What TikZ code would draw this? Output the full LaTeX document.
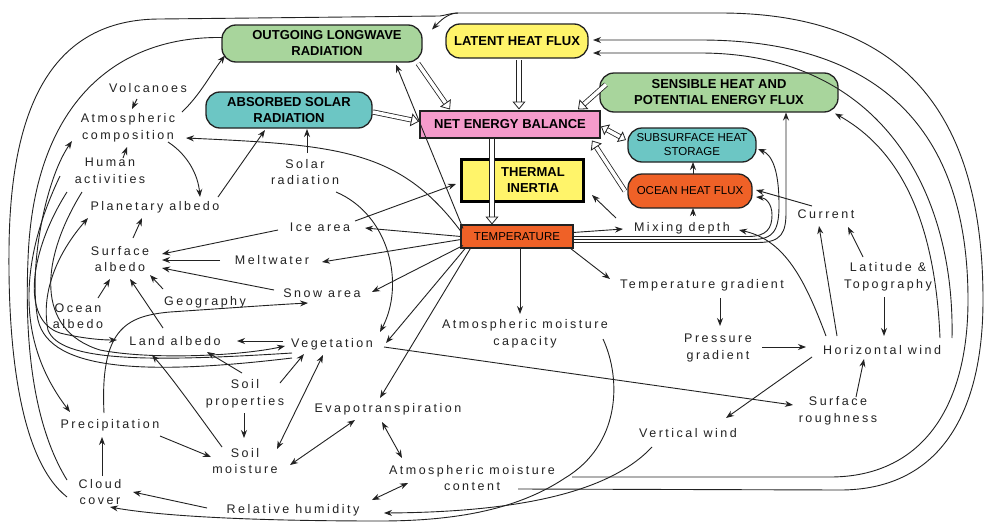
\documentclass[tikz,border=0pt]{standalone}
\usepackage{fontspec}
\setmainfont{Liberation Sans}
\newfontfamily\lblf[LetterSpace=20]{Liberation Sans}
\usetikzlibrary{arrows.meta,calc}
\definecolor{boxgreen}{HTML}{A8D59C}
\definecolor{boxyellow}{HTML}{FFF46A}
\definecolor{boxteal}{HTML}{6CC6C4}
\definecolor{boxpink}{HTML}{F59BCB}
\definecolor{boxorange}{HTML}{EF6127}
\definecolor{ink}{HTML}{222222}
\begin{document}
\begin{tikzpicture}[x=1pt,y=-1pt,
 lbl/.style={font=\lblf\fontsize{12.5}{16.5}\selectfont, text=ink, align=center, inner sep=1pt},
 rbox/.style={draw=ink, line width=1.3pt, rounded corners=14pt, font=\fontsize{13}{16}\selectfont\bfseries, align=center, inner sep=0pt},
 rboxr/.style={rbox, font=\fontsize{11.5}{14}\selectfont},
 arr/.style={draw=ink, line width=0.9pt, -{Stealth[length=8pt,width=6pt]}},
 darr/.style={draw=ink, line width=0.9pt, {Stealth[length=8pt,width=6pt]}-{Stealth[length=8pt,width=6pt]}},
 plain/.style={draw=ink, line width=0.9pt},
 hollow/.style={draw=ink, line width=0.8pt, double=white, double distance=3.5pt, -{Triangle[open,length=8pt,width=13pt]}},
 dhollow/.style={hollow, {Triangle[open,length=7pt,width=12pt]}-{Triangle[open,length=7pt,width=12pt]}}
]
\useasboundingbox[fill=white] (0,0) rectangle (986,525);

% boxes
\node[rbox, fill=boxgreen, minimum width=200pt, minimum height=37pt] (olr) at (322,43.5) {\hspace*{10pt}OUTGOING LONGWAVE\\\hspace*{10pt}RADIATION};
\node[rbox, fill=boxyellow, minimum width=142pt, minimum height=34pt] (lhf) at (517,41) {LATENT HEAT FLUX};
\node[rbox, fill=boxteal, minimum width=166pt, minimum height=36pt] (asr) at (289,110) {ABSORBED SOLAR\\RADIATION};
\node[rbox, rounded corners=0pt, fill=boxpink, minimum width=180pt, minimum height=27pt] (neb) at (510,124.5) {NET ENERGY BALANCE};
\node[rbox, fill=boxgreen, minimum width=238pt, minimum height=39pt] (shf) at (719,92.5) {SENSIBLE HEAT AND\\POTENTIAL ENERGY FLUX};
\node[rboxr, fill=boxteal, minimum width=128pt, minimum height=34pt] (shs) at (692,145) {SUBSURFACE HEAT\\STORAGE};
\node[rbox, rounded corners=0pt, line width=3pt, draw=black, fill=boxyellow, minimum width=122pt, minimum height=42pt] (ti) at (522,180) {\hspace*{22pt}THERMAL\\\hspace*{22pt}INERTIA};
\node[rboxr, fill=boxorange, minimum width=124pt, minimum height=34pt] (ohf) at (690,191) {OCEAN HEAT FLUX};
\node[rboxr, rounded corners=0pt, fill=boxorange, minimum width=112pt, minimum height=23pt] (temp) at (517,236.5) {TEMPERATURE};

% labels
\node[lbl] (volc) at (148,88) {Volcanoes};
\node[lbl] (atmc) at (128,128) {Atmospheric\\composition};
\node[lbl] (human) at (110,171) {Human\\activities};
\node[lbl] (palb) at (155,207) {Planetary albedo};
\node[lbl] (salb) at (120,259) {Surface\\albedo};
\node[lbl] (oalb) at (78,316) {Ocean\\albedo};
\node[lbl] (geo) at (205,302) {Geography};
\node[lbl] (lalb) at (175,341) {Land albedo};
\node[lbl] (solar) at (305,172) {Solar\\radiation};
\node[lbl] (ice) at (320,227) {Ice area};
\node[lbl] (melt) at (272,260) {Meltwater};
\node[lbl] (snow) at (322,293) {Snow area};
\node[lbl] (veg) at (332,344) {Vegetation};
\node[lbl] (soilp) at (245,394) {Soil\\properties};
\node[lbl] (evap) at (388,409) {Evapotranspiration};
\node[lbl] (precip) at (110,425) {Precipitation};
\node[lbl] (soilm) at (245,461) {Soil\\moisture};
\node[lbl] (cloud) at (100,492) {Cloud\\cover};
\node[lbl] (relh) at (293,510) {Relative humidity};
\node[lbl] (amc) at (472,478) {Atmospheric moisture\\content};
\node[lbl] (amcap) at (525,334) {Atmospheric moisture\\capacity};
\node[lbl] (tgrad) at (702,285) {Temperature gradient};
\node[lbl] (pgrad) at (718,348) {Pressure\\gradient};
\node[lbl] (hwind) at (882,350) {Horizontal wind};
\node[lbl] (srough) at (838,411) {Surface\\roughness};
\node[lbl] (vwind) at (688,433) {Vertical wind};
\node[lbl] (mix) at (682,228) {Mixing depth};
\node[lbl] (curr) at (826,214) {Current};
\node[lbl] (lat) at (888,277) {Latitude \&\\Topography};
\coordinate (topjoin) at (458,13);

% left cluster
\draw[arr] ($(volc)+(-11,11)$) -- ($(atmc)+(4,-19)$);
\draw[arr] ($(human)+(13,-13)$) -- ($(atmc)+(-1,19)$);
\draw[arr] ($(atmc)+(54,-16)$) .. controls (200,95) and (210,75) .. ($(olr)+(-97,12)$);
\draw[arr] ($(atmc)+(40,14)$) .. controls (188,155) and (198,175) .. ($(palb)+(45,-10)$);
\draw[arr] ($(temp)+(-56,-5)$) .. controls (400,150) and (340,145) .. ($(atmc)+(58,10)$);
\draw[arr] ($(palb)+(63,-10)$) -- ($(asr)+(-24,20)$);
\draw[arr] ($(solar)+(2,-19)$) -- ($(asr)+(18,19)$);
\draw[arr] ($(salb)+(13,-21)$) -- ($(palb)+(-13,11)$);
\draw[arr] ($(ice)+(-42,3)$) -- ($(salb)+(42,-5)$);
\draw[arr] ($(melt)+(-52,0)$) -- ($(salb)+(42,1)$);
\draw[arr] ($(snow)+(-48,-3)$) -- ($(salb)+(42,9)$);
\draw[arr] ($(oalb)+(20,-18)$) -- ($(salb)+(-10,20)$);
\draw[arr] ($(lalb)+(-12,-13)$) -- ($(salb)+(10,20)$);
\draw[arr] ($(geo)+(-42,-13)$) -- ($(salb)+(30,16)$);

% temperature fan
\draw[arr] ($(temp)+(-54,-8)$) -- ($(olr)+(74,21)$);
\draw[arr] ($(temp)+(-56,0)$) -- ($(ice)+(45,1)$);
\draw[arr] ($(ice)+(35,-6)$) -- ($(ti)+(-66,4)$);
\draw[arr] ($(temp)+(-56,3)$) -- ($(melt)+(50,2)$);
\draw[arr] ($(temp)+(-54,9)$) -- ($(snow)+(50,-1)$);
\draw[arr] ($(temp)+(-51,11)$) -- ($(veg)+(54,-1)$);
\draw[arr] ($(temp)+(-46,11)$) -- ($(evap)+(-8,-11)$);
\draw[arr] ($(solar)+(31,20)$) .. controls (390,215) and (405,285) .. ($(veg)+(48,-12)$);
\draw[arr] ($(temp)+(3,11.5)$) -- ($(amcap)+(-5,-20)$);
\draw[arr] ($(temp)+(56,-4)$) -- ($(mix)+(-59,1)$);
\draw[arr] ($(temp)+(53,11.5)$) -- ($(tgrad)+(-92,-6)$);
\draw[arr] ($(mix)+(-66,-10)$) -- ($(ti)+(70,15)$);

% right cluster
\draw[arr] ($(tgrad)+(18,13)$) -- ($(pgrad)+(2,-22)$);
\draw[arr] ($(pgrad)+(44,-1)$) -- ($(hwind)+(-76,-3)$);
\draw[arr] ($(hwind)+(-70,7)$) -- ($(vwind)+(38,-15)$);
\draw[arr] ($(veg)+(52,3)$) -- ($(srough)+(-45,-6)$);
\draw[arr] ($(srough)+(18,-14)$) -- ($(hwind)+(-18,9)$);
\draw[arr] ($(lat)+(-4,20)$) -- ($(hwind)+(2,-14)$);
\draw[arr] ($(lat)+(-25,-20)$) -- ($(curr)+(22,13)$);
\draw[arr] ($(hwind)+(-45,-14)$) -- ($(curr)+(-7,12)$);
\draw[arr] ($(hwind)+(-56,-14)$) .. controls (805,280) and (785,240) .. ($(mix)+(57,2)$);
\draw[arr] ($(curr)+(-14,-8)$) -- ($(ohf)+(66,-1)$);
\draw[arr] ($(ohf)+(3,-17)$) -- ($(shs)+(1,17)$);
\draw[arr] ($(mix)+(11,-12)$) -- ($(ohf)+(3,17)$);
\draw[arr] ($(temp)+(56,6)$) -- (758,242.5) .. controls (782,242.5) and (786,232) .. (786,212) -- ($(shf)+(67,20)$);
\draw[arr] ($(temp)+(56,3)$) -- (752,239.5) .. controls (774,239.5) and (779,230) .. (779,205) .. controls (779,170) and (772,155) .. ($(shs)+(66,4)$);
\draw[arr] ($(temp)+(56,0)$) -- (748,236.5) .. controls (767,236.5) and (772,228) .. (772,215) .. controls (772,204) and (766,198) .. ($(ohf)+(66,6)$);

% long outer curves
\draw[arr] ($(amc)+(46,11)$) -- (840,490) .. controls (935,490) and (983,420) .. (983,300) .. controls (983,110) and (900,13) .. (720,13) -- (topjoin) .. controls (448,13) and (440,21) .. ($(olr)+(110,-14)$);
\draw[arr] ($(amc)+(100,-1)$) -- (830,477) .. controls (920,477) and (968,410) .. (968,300) .. controls (968,130) and (880,40) .. (700,40) -- ($(lhf)+(76,-1)$);
\draw[arr] ($(hwind)+(70,-12)$) .. controls (955,190) and (880,53) .. (700,53) -- ($(lhf)+(76,12)$);
\draw[arr] ($(hwind)+(58,-12)$) .. controls (935,220) and (900,150) .. ($(shf)+(116,21)$);
\draw[plain] ($(cloud)+(-33,5)$) .. controls (20,460) and (8,350) .. (9,250) .. controls (10,110) and (50,19) .. (160,19) -- (440,16) .. controls (447,15) and (451,13) .. (topjoin);
\draw[plain] ($(cloud)+(-33,-12)$) .. controls (30,420) and (25,330) .. (28,260) .. controls (33,110) and (110,36) .. ($(olr)+(-100,-6)$);
\draw[arr] ($(veg)+(-40,14)$) .. controls (150,375) and (50,372) .. (38,320) .. controls (28,270) and (45,180) .. ($(atmc)+(-56,13)$);
\draw[arr] ($(veg)+(-40,9)$) .. controls (150,362) and (60,362) .. (48,330) .. controls (40,290) and (60,250) .. ($(palb)+(-67,11)$);
\draw[arr] ($(human)+(-43,21)$) .. controls (30,250) and (20,320) .. (60,333) .. controls (80,338) and (100,340) .. ($(lalb)+(-58,-1)$);
\draw[arr] ($(human)+(-28,21)$) .. controls (40,260) and (35,330) .. (100,350) .. controls (150,360) and (240,356) .. ($(veg)+(-47,2)$);
\draw[arr] ($(human)+(-50,5)$) .. controls (20,260) and (15,340) .. ($(precip)+(-40,-13)$);

% lower left
\draw[arr] ($(precip)+(-6,-12)$) .. controls (100,330) and (125,316) .. (170,312) .. controls (230,308) and (270,305) .. ($(snow)+(-14,10)$);
\draw[arr] ($(cloud)+(2,-16)$) -- ($(precip)+(-8,12)$);
\draw[arr] ($(relh)+(-86,-2)$) -- ($(cloud)+(33,0)$);
\draw[arr] ($(amcap)+(78,5)$) .. controls (622,380) and (620,445) .. (565,478) .. controls (520,508) and (460,521) .. (380,521) .. controls (250,521) and (160,516) .. ($(cloud)+(10,15)$);
\draw[arr] ($(vwind)+(-36,14)$) .. controls (610,492) and (520,512) .. ($(relh)+(91,3)$);
\draw[darr] ($(amc)+(-64,5)$) -- ($(relh)+(79,-10)$);
\draw[darr] ($(evap)+(-6,13)$) -- ($(amc)+(-70,-20)$);
\draw[darr] ($(evap)+(-33,11)$) -- ($(soilm)+(45,4)$);
\draw[darr] ($(veg)+(-9,11)$) -- ($(soilm)+(32,-12)$);
\draw[arr] ($(soilp)+(35,-11)$) -- ($(veg)+(-28,10)$);
\draw[arr] ($(soilp)+(-1,19)$) -- ($(soilm)+(-1,-23)$);
\draw[arr] ($(soilp)+(-3,-21)$) -- ($(lalb)+(32,11)$);
\draw[arr] ($(soilm)+(-23,-14)$) .. controls (195,410) and (170,375) .. ($(lalb)+(-23,14)$);
\draw[arr] ($(precip)+(50,11)$) -- ($(soilm)+(-34,-4)$);
\draw[arr] ($(veg)+(-49,-3)$) -- ($(lalb)+(62,0)$);

% energy flows
\draw[hollow] ($(olr)+(96,20)$) -- ($(neb)+(-60,-15)$);
\draw[hollow] ($(lhf)+(2,19)$) -- ($(neb)+(9,-15)$);
\draw[hollow] ($(asr)+(84,2)$) -- ($(neb)+(-91,-3)$);
\draw[hollow] ($(shf)+(-113,-8)$) -- ($(neb)+(68,-15)$);
\draw[dhollow] ($(neb)+(91,2)$) -- ($(shs)+(-66,-5)$);
\draw[hollow] ($(ohf)+(-65,0)$) -- ($(neb)+(82,16)$);
\draw[hollow] ($(neb)+(-18,14)$) -- ($(temp)+(-25,-12)$);
\end{tikzpicture}
\end{document}
